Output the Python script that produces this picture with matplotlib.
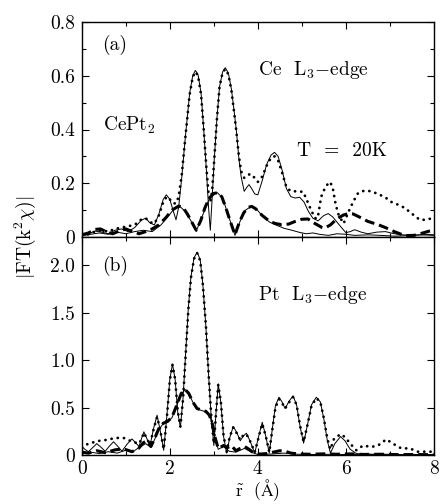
import matplotlib
matplotlib.use('Agg')
import matplotlib.pyplot as plt
from matplotlib.ticker import MultipleLocator

plt.rcParams['font.family'] = ['cmr10', 'DejaVu Serif']
plt.rcParams['mathtext.fontset'] = 'cm'
plt.rcParams['axes.unicode_minus'] = False

# ---- panel (a): Ce L3-edge ----
# measured |FT| (thin solid) and fit (dotted), main curve
a_hi_r = [0.00, 0.15, 0.30, 0.45, 0.60, 0.75, 0.90, 1.05, 1.20, 1.35, 1.45, 1.55, 1.65, 1.75, 1.85,
          1.92, 2.00, 2.08, 2.14, 2.20, 2.27, 2.34, 2.45, 2.52, 2.58, 2.64, 2.71, 2.77, 2.83, 2.88,
          2.92, 2.96, 3.01, 3.07, 3.13, 3.20, 3.26, 3.33, 3.40, 3.46, 3.51, 3.57, 3.62, 3.69, 3.75,
          3.80, 3.86, 3.93, 4.00, 4.10, 4.20, 4.30, 4.38, 4.46, 4.55, 4.65, 4.75, 4.85, 4.95, 5.05,
          5.15, 5.25, 5.37, 5.50, 5.60, 5.70, 5.85, 6.00, 6.10, 6.20, 6.35, 6.50, 6.70, 6.90, 7.10,
          7.30, 7.50, 7.70, 7.85, 8.00]
a_hi_v = [0.010, 0.012, 0.022, 0.018, 0.012, 0.025, 0.030, 0.020, 0.035, 0.062, 0.070, 0.052, 0.045, 0.085, 0.140,
          0.157, 0.140, 0.095, 0.064, 0.110, 0.220, 0.350, 0.535, 0.600, 0.620, 0.605, 0.535, 0.400, 0.250, 0.110,
          0.025, 0.140, 0.290, 0.440, 0.560, 0.615, 0.630, 0.610, 0.550, 0.470, 0.400, 0.290, 0.225, 0.170, 0.185,
          0.195, 0.180, 0.160, 0.157, 0.210, 0.270, 0.305, 0.315, 0.300, 0.250, 0.180, 0.150, 0.145, 0.148, 0.130,
          0.095, 0.070, 0.060, 0.080, 0.087, 0.075, 0.045, 0.016, 0.020, 0.027, 0.018, 0.012, 0.018, 0.020, 0.012,
          0.008, 0.006, 0.008, 0.010, 0.008]

a_fit_hi_r = [0.00, 0.15, 0.30, 0.45, 0.60, 0.75, 0.90, 1.05, 1.20, 1.35, 1.45, 1.55, 1.65, 1.75, 1.85,
              1.93, 2.00, 2.08, 2.14, 2.20, 2.27, 2.34, 2.45, 2.52, 2.58, 2.64, 2.71, 2.77, 2.83, 2.88,
              2.92, 2.96, 3.01, 3.07, 3.13, 3.20, 3.26, 3.33, 3.40, 3.46, 3.51, 3.57, 3.62, 3.69, 3.75,
              3.82, 3.90, 4.00, 4.10, 4.20, 4.30, 4.38, 4.46, 4.55, 4.65, 4.75, 4.88, 5.03, 5.12, 5.21,
              5.30, 5.36, 5.44, 5.52, 5.58, 5.64, 5.70, 5.77, 5.84, 5.95, 6.05, 6.17, 6.28, 6.43, 6.58,
              6.73, 6.89, 7.04, 7.19, 7.34, 7.53, 7.68, 7.83, 8.00]
a_fit_hi_v = [0.005, 0.010, 0.020, 0.025, 0.020, 0.030, 0.035, 0.040, 0.045, 0.065, 0.070, 0.055, 0.050, 0.080, 0.130,
              0.150, 0.140, 0.125, 0.125, 0.150, 0.230, 0.350, 0.530, 0.595, 0.615, 0.600, 0.530, 0.400, 0.260, 0.160,
              0.130, 0.170, 0.290, 0.440, 0.560, 0.612, 0.625, 0.605, 0.545, 0.465, 0.395, 0.300, 0.245, 0.220, 0.225,
              0.235, 0.225, 0.205, 0.225, 0.265, 0.295, 0.300, 0.285, 0.240, 0.185, 0.170, 0.170, 0.168, 0.135, 0.100,
              0.070, 0.070, 0.150, 0.180, 0.195, 0.205, 0.185, 0.120, 0.080, 0.050, 0.090, 0.132, 0.164, 0.173, 0.170,
              0.160, 0.148, 0.130, 0.120, 0.108, 0.083, 0.064, 0.064, 0.072]

# second component: measured (thin solid) and fit (thick dashed)
a_lo_r = [0.00, 0.20, 0.40, 0.60, 0.80, 1.00, 1.20, 1.40, 1.60, 1.80, 1.95, 2.10, 2.22, 2.35, 2.48,
          2.60, 2.72, 2.85, 2.97, 3.08, 3.20, 3.32, 3.48, 3.60, 3.72, 3.85, 3.98, 4.12, 4.27, 4.45,
          4.60, 4.73, 4.95, 5.10, 5.25, 5.40, 5.60, 5.80, 6.00, 6.20, 6.50, 6.80, 7.10, 7.40, 7.70, 8.00]
a_lo_v = [0.005, 0.010, 0.015, 0.010, 0.018, 0.012, 0.020, 0.025, 0.020, 0.045, 0.075, 0.105, 0.115, 0.095, 0.060,
          0.022, 0.070, 0.125, 0.160, 0.165, 0.145, 0.085, 0.006, 0.060, 0.100, 0.114, 0.102, 0.075, 0.055, 0.042,
          0.032, 0.027, 0.017, 0.012, 0.015, 0.010, 0.006, 0.012, 0.010, 0.006, 0.008, 0.006, 0.003, 0.005, 0.008, 0.006]

a_fit_lo_r = [0.00, 0.15, 0.30, 0.42, 0.55, 0.70, 0.85, 1.00, 1.15, 1.30, 1.45, 1.60, 1.75, 1.90, 2.05,
              2.20, 2.30, 2.40, 2.50, 2.60, 2.70, 2.80, 2.90, 3.00, 3.09, 3.18, 3.27, 3.37, 3.48, 3.58,
              3.68, 3.78, 3.86, 3.95, 4.10, 4.27, 4.40, 4.54, 4.70, 4.85, 5.00, 5.14, 5.30, 5.45, 5.52,
              5.65, 5.80, 5.95, 6.08, 6.16, 6.30, 6.50, 6.73, 6.90, 7.10, 7.34, 7.55, 7.75, 7.90, 8.00]
a_fit_lo_v = [0.008, 0.015, 0.028, 0.030, 0.020, 0.012, 0.022, 0.030, 0.020, 0.012, 0.020, 0.030, 0.045, 0.070, 0.100,
              0.115, 0.110, 0.085, 0.055, 0.025, 0.060, 0.110, 0.145, 0.162, 0.165, 0.150, 0.110, 0.060, 0.008, 0.055,
              0.090, 0.110, 0.114, 0.105, 0.080, 0.058, 0.050, 0.046, 0.048, 0.058, 0.066, 0.067, 0.050, 0.036, 0.033,
              0.045, 0.068, 0.082, 0.088, 0.086, 0.075, 0.058, 0.046, 0.035, 0.020, 0.005, 0.006, 0.015, 0.022, 0.025]

# ---- panel (b): Pt L3-edge ----
b_hi_r = [0.00, 0.07, 0.15, 0.25, 0.34, 0.44, 0.53, 0.62, 0.72, 0.82, 0.91, 1.02, 1.14, 1.22, 1.30,
          1.36, 1.41, 1.48, 1.55, 1.63, 1.71, 1.78, 1.86, 1.93, 2.00, 2.06, 2.12, 2.18, 2.24, 2.30,
          2.36, 2.42, 2.48, 2.55, 2.62, 2.69, 2.75, 2.82, 2.88, 2.94, 3.00, 3.05, 3.10, 3.16, 3.22,
          3.29, 3.36, 3.44, 3.52, 3.60, 3.67, 3.74, 3.82, 3.93, 4.02, 4.10, 4.18, 4.26, 4.33, 4.40,
          4.48, 4.55, 4.62, 4.70, 4.80, 4.88, 4.96, 5.04, 5.12, 5.22, 5.33, 5.42, 5.50, 5.58, 5.65,
          5.75, 5.88, 5.98, 6.10, 6.24, 6.40, 6.60, 6.80, 7.00, 7.20, 7.50, 7.80, 8.00]
b_hi_v = [0.090, 0.060, 0.035, 0.080, 0.120, 0.080, 0.040, 0.090, 0.140, 0.090, 0.040, 0.110, 0.170, 0.130, 0.090,
          0.180, 0.245, 0.170, 0.100, 0.280, 0.420, 0.260, 0.050, 0.400, 0.800, 0.960, 0.800, 0.450, 0.290, 0.600,
          1.080, 1.550, 1.880, 2.080, 2.140, 2.060, 1.800, 1.350, 0.850, 0.400, 0.100, 0.450, 0.750, 0.550, 0.200,
          0.020, 0.180, 0.300, 0.240, 0.150, 0.200, 0.230, 0.150, 0.020, 0.200, 0.345, 0.200, 0.020, 0.280, 0.520,
          0.610, 0.560, 0.490, 0.560, 0.625, 0.530, 0.300, 0.125, 0.300, 0.530, 0.610, 0.560, 0.380, 0.150, 0.020,
          0.120, 0.195, 0.150, 0.060, 0.015, 0.010, 0.008, 0.010, 0.006, 0.005, 0.004, 0.004, 0.003]

b_fit_hi_r = [0.00, 0.10, 0.23, 0.40, 0.57, 0.76, 0.95, 1.10, 1.22, 1.30,
              1.36, 1.41, 1.48, 1.55, 1.63, 1.71, 1.78, 1.86, 1.93, 2.00, 2.06, 2.12, 2.18, 2.24, 2.30,
              2.36, 2.42, 2.48, 2.55, 2.62, 2.69, 2.75, 2.82, 2.88, 2.94, 3.00, 3.05, 3.10, 3.16, 3.22,
              3.29, 3.36, 3.44, 3.52, 3.60, 3.67, 3.74, 3.82, 3.93, 4.02, 4.10, 4.18, 4.26, 4.33, 4.40,
              4.48, 4.55, 4.62, 4.70, 4.80, 4.88, 4.96, 5.04, 5.12, 5.22, 5.33, 5.42, 5.50, 5.58, 5.65,
              5.73, 5.88, 5.98, 6.10, 6.24, 6.39, 6.58, 6.73, 6.92, 7.07, 7.26, 7.45, 7.64, 7.90, 8.00]
b_fit_hi_v = [0.080, 0.110, 0.130, 0.150, 0.160, 0.180, 0.180, 0.150, 0.130, 0.120,
              0.170, 0.235, 0.170, 0.110, 0.270, 0.400, 0.270, 0.060, 0.380, 0.790, 0.950, 0.800, 0.460, 0.300, 0.590,
              1.060, 1.530, 1.870, 2.070, 2.130, 2.050, 1.800, 1.360, 0.860, 0.420, 0.120, 0.440, 0.740, 0.560, 0.210,
              0.030, 0.190, 0.290, 0.230, 0.160, 0.210, 0.220, 0.150, 0.030, 0.190, 0.330, 0.200, 0.030, 0.270, 0.500,
              0.590, 0.550, 0.490, 0.550, 0.610, 0.530, 0.310, 0.140, 0.300, 0.520, 0.600, 0.560, 0.390, 0.170, 0.060,
              0.170, 0.220, 0.190, 0.120, 0.050, 0.100, 0.085, 0.100, 0.165, 0.120, 0.070, 0.070, 0.035, 0.035, 0.035]

b_lo_r = [0.00, 0.20, 0.40, 0.60, 0.80, 1.00, 1.15, 1.30, 1.45, 1.57, 1.66, 1.75, 1.85, 1.95, 2.05,
          2.16, 2.26, 2.35, 2.43, 2.52, 2.62, 2.72, 2.82, 2.90, 2.97, 3.03, 3.10, 3.22, 3.35, 3.50,
          3.70, 3.85, 4.00, 4.30, 4.60, 4.90, 5.30, 5.70, 6.10, 6.60, 7.10, 7.60, 8.00]
b_lo_v = [0.010, 0.030, 0.015, 0.035, 0.020, 0.050, 0.030, 0.080, 0.120, 0.080, 0.170, 0.270, 0.330, 0.350, 0.395,
          0.525, 0.645, 0.690, 0.650, 0.560, 0.485, 0.470, 0.455, 0.420, 0.320, 0.170, 0.060, 0.090, 0.040, 0.030,
          0.070, 0.030, 0.005, 0.010, 0.020, 0.008, 0.005, 0.008, 0.004, 0.006, 0.003, 0.004, 0.003]

b_fit_lo_r = [0.00, 0.15, 0.34, 0.53, 0.76, 0.95, 1.14, 1.29, 1.40, 1.48, 1.57, 1.66, 1.75, 1.85, 1.95,
              2.05, 2.16, 2.26, 2.35, 2.43, 2.52, 2.62, 2.72, 2.82, 2.90, 2.97, 3.03, 3.10, 3.22, 3.30,
              3.40, 3.50, 3.60, 3.70, 3.80, 3.90, 4.05, 4.20, 4.35, 4.50, 4.62, 4.75, 4.95, 5.20, 5.50,
              5.80, 6.10, 6.40, 6.80, 7.20, 7.60, 8.00]
b_fit_lo_v = [0.030, 0.020, 0.045, 0.025, 0.055, 0.065, 0.035, 0.070, 0.130, 0.150, 0.090, 0.180, 0.280, 0.335, 0.355,
              0.400, 0.530, 0.650, 0.690, 0.650, 0.560, 0.490, 0.475, 0.460, 0.420, 0.320, 0.180, 0.070, 0.100, 0.075,
              0.100, 0.045, 0.070, 0.090, 0.060, 0.025, 0.010, 0.015, 0.030, 0.045, 0.040, 0.020, 0.010, 0.008, 0.012,
              0.008, 0.012, 0.006, 0.008, 0.004, 0.005, 0.003]

x_ticks = [0, 2, 4, 6, 8]
x_ticklabels = ['0', '2', '4', '6', '8']
a_yticks = [0, 0.2, 0.4, 0.6, 0.8]
a_yticklabels = ['0', '0.2', '0.4', '0.6', '0.8']
b_yticks = [0, 0.5, 1.0, 1.5, 2.0]
b_yticklabels = ['0', '0.5', '1.0', '1.5', '2.0']

fs = 14
fig = plt.figure(figsize=(4.4, 5.04), dpi=100)
ax_a = fig.add_axes([0.186, 0.5298, 0.800, 0.4265])
ax_b = fig.add_axes([0.186, 0.0972, 0.800, 0.4326])

thin = dict(color='black', lw=0.7)
dots = dict(color='black', lw=2.0, linestyle=(0, (0.05, 2.2)), dash_capstyle='round')
dash = dict(color='black', lw=2.2, linestyle=(0, (3.2, 1.6)))

ax_a.plot(a_hi_r, a_hi_v, **thin)
ax_a.plot(a_fit_hi_r, a_fit_hi_v, **dots)
ax_a.plot(a_lo_r, a_lo_v, **thin)
ax_a.plot(a_fit_lo_r, a_fit_lo_v, **dash)

ax_b.plot(b_hi_r, b_hi_v, **thin)
ax_b.plot(b_fit_hi_r, b_fit_hi_v, **dots)
ax_b.plot(b_lo_r, b_lo_v, **thin)
ax_b.plot(b_fit_lo_r, b_fit_lo_v, **dash)

ax_a.set_ylim(0, 0.8)
ax_b.set_ylim(0, 2.3)
ax_a.set_yticks(a_yticks)
ax_a.set_yticklabels(a_yticklabels)
ax_b.set_yticks(b_yticks)
ax_b.set_yticklabels(b_yticklabels)
ax_a.yaxis.set_minor_locator(MultipleLocator(0.1))

for ax in (ax_a, ax_b):
    ax.set_xlim(0, 8)
    ax.set_xticks(x_ticks)
    ax.xaxis.set_minor_locator(MultipleLocator(1))
    ax.tick_params(which='both', direction='in', top=True, right=True, labelsize=fs, width=0.8)
    ax.tick_params(which='major', length=5, pad=5)
    ax.tick_params(which='minor', length=3)
    for s in ax.spines.values():
        s.set_linewidth(1.0)

ax_a.set_xticklabels([])
ax_b.set_xticklabels(x_ticklabels)
ax_b.tick_params(axis='x', pad=3.5)

ax_a.text(0.45, 0.715, '(a)', fontsize=fs, va='center')
ax_a.text(4.0, 0.62, r'Ce  L$_3$$-$edge', fontsize=fs, va='center')
ax_a.text(0.48, 0.415, r'CePt$_2$', fontsize=fs, va='center')
ax_a.text(4.88, 0.318, 'T  =  20K', fontsize=fs, va='center')
ax_b.text(0.45, 1.99, '(b)', fontsize=fs, va='center')
ax_b.text(4.0, 1.69, r'Pt  L$_3$$-$edge', fontsize=fs, va='center')

fig.text(0.057, 0.53, r'$|\mathrm{FT}(\mathrm{k}^2\chi)|$', rotation=90, fontsize=fs,
         ha='center', va='center')
fig.text(0.586, 0.002, r'$\tilde{\mathrm{r}}$  ($\mathrm{\AA}$)', fontsize=12.5, ha='center', va='bottom')

fig.savefig('out.png', dpi=100)
